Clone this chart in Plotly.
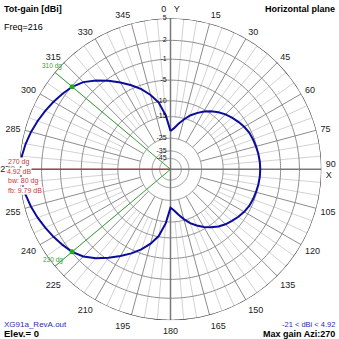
import numpy as np
import plotly.graph_objects as go

# ---------------------------------------------------------------------------
# Horizontal-plane total gain of the XG91a antenna (Elev = 0, Freq = 216)
# Azimuth is compass style: 0 deg on +Y (top), increasing clockwise.
# ---------------------------------------------------------------------------
azimuth_deg = list(range(0, 360, 5))
tot_gain_dbi = [
    -21.0, -19.6, -17.5, -15.4, -13.4, -11.9, -10.5, -9.4,    # 0 .. 35
    -8.4, -7.6, -7.0, -6.4, -5.9, -5.5, -5.3, -5.15,           # 40 .. 75
    -5.0, -4.9, -4.87, -4.9, -5.0, -5.15, -5.3, -5.5,          # 80 .. 115
    -5.9, -6.4, -7.0, -7.6, -8.4, -9.4, -10.5, -11.9,          # 120 .. 155
    -13.4, -15.4, -17.5, -19.6, -21.0, -14.5, -10.2, -7.8,     # 160 .. 195
    -5.85, -4.25, -2.8, -1.35, 0.0, 1.15, 1.92, 2.42,          # 200 .. 235
    2.88, 3.32, 3.75, 4.15, 4.5, 4.78, 4.92, 4.78,             # 240 .. 275
    4.5, 4.15, 3.75, 3.32, 2.88, 2.42, 1.92, 1.15,             # 280 .. 315
    0.0, -1.35, -2.8, -4.25, -5.85, -7.8, -10.2, -14.5,        # 320 .. 355
]

# Gain rings of the log grid and their labels
ring_db = [5, 2, -1, -5, -10, -15, -25, -35, -45]
ring_labels = ["5", "2", "-1", "-5", "-10", "-15", "-25", "-35", "-45"]

# Compass tick marks around the rim
angle_ticks = list(range(0, 360, 15))
angle_labels = [str(a) for a in angle_ticks]
angle_labels[0] = "0\u00a0\u00a0\u00a0Y"
angle_labels[6] = "90<br>X"

file_name = "XG91a_RevA.out"
freq_text = "Freq=216"
elev_deg = 0

# ---------------------------------------------------------------------------
# Log (ARRL-style) radial scale: every 2 dB shrinks the radius by 0.9
# ---------------------------------------------------------------------------
TOP_DB = 5.0


def radius(db):
    return 0.9 ** ((TOP_DB - np.asarray(db, dtype=float)) / 2.0)


az = np.array(azimuth_deg, dtype=float)
gain = np.array(tot_gain_dbi, dtype=float)

i_max = int(np.argmax(gain))
max_gain = gain[i_max]
max_az = az[i_max]
min_gain = gain.min()
back_az = (max_az + 180) % 360
fb_db = max_gain - gain[azimuth_deg.index(int(back_az))]
half_power = max_gain - 3.0
# -3 dB points on either side of the main beam
bw_lo = max(a for a, g in zip(azimuth_deg, tot_gain_dbi) if a < max_az and g <= half_power + 1e-9)
bw_hi = min(a for a, g in zip(azimuth_deg, tot_gain_dbi) if a > max_az and g <= half_power + 1e-9)
beamwidth = bw_hi - bw_lo

FONT = "Liberation Sans, Arial, sans-serif"
GRID_DARK = "#8c8c8c"
GRID_LIGHT = "#d2d2d2"
CURVE = "#0c0c9c"
GREEN = "#3a9e3a"
RED = "#c83737"

fig = go.Figure()


def seg_trace(thetas, r0, r1, color, width):
    th, rr = [], []
    for t in thetas:
        th += [t, t, None]
        rr += [r0, r1, None]
    return go.Scatterpolar(theta=th, r=rr, mode="lines", hoverinfo="skip",
                           line=dict(color=color, width=width), showlegend=False)


# minor (5 deg) and major (15 deg) spokes
minor = [a for a in range(0, 360, 5) if a % 15 != 0]
major = [a for a in range(0, 360, 15) if a % 90 != 0]
fig.add_trace(seg_trace(minor, float(radius(-15)), 1.0, GRID_LIGHT, 1))
fig.add_trace(seg_trace(major, float(radius(-25)), 1.0, GRID_DARK, 1))

# gain rings
ring_theta = np.arange(0, 361, 1)
for db in ring_db[1:]:
    fig.add_trace(go.Scatterpolar(theta=ring_theta, r=np.full(ring_theta.shape, float(radius(db))),
                                  mode="lines", hoverinfo="skip", showlegend=False,
                                  line=dict(color=GRID_DARK, width=1)))

# main cross through the centre
fig.add_trace(go.Scatterpolar(theta=[0, 0, 180, None, 90, 90, 270], r=[1, 0, 1, None, 1, 0, 1],
                              mode="lines", hoverinfo="skip", showlegend=False,
                              line=dict(color="#7a7a7a", width=1.5)))

# outer rim
fig.add_trace(go.Scatterpolar(theta=ring_theta, r=np.full(ring_theta.shape, float(radius(ring_db[0]))),
                              mode="lines", hoverinfo="skip", showlegend=False,
                              line=dict(color="#303030", width=1.2)))

# -3 dB bearing lines
fig.add_trace(seg_trace([bw_lo, bw_hi], 0.0, 1.0, GREEN, 1))
# max-gain bearing
fig.add_trace(seg_trace([max_az], 0.0, 1.0, RED, 1.2))

# radiation pattern
fig.add_trace(go.Scatterpolar(theta=np.append(az, az[0]), r=radius(np.append(gain, gain[0])),
                              mode="lines", hoverinfo="skip", showlegend=False,
                              line=dict(color=CURVE, width=2)))

# -3 dB markers on the curve
bw_gains = [tot_gain_dbi[azimuth_deg.index(bw_lo)], tot_gain_dbi[azimuth_deg.index(bw_hi)]]
fig.add_trace(go.Scatterpolar(theta=[bw_lo, bw_hi], r=radius(bw_gains), mode="markers",
                              hoverinfo="skip", showlegend=False,
                              marker=dict(color="#22aa22", size=5)))

# ring labels along the 0 deg line
fig.add_trace(go.Scatterpolar(theta=[0] * len(ring_db), r=radius(ring_db), mode="text",
                              text=[s + "\u00a0\u00a0" for s in ring_labels],
                              textposition="middle left", cliponaxis=False,
                              textfont=dict(size=7, color="#111111", family=FONT),
                              hoverinfo="skip", showlegend=False))

W = H = 339


def px(x):
    return x / W


def py(y):
    return 1 - y / H


ann = []


def text(x, y, s, size, color="#000000", bold=False, anchor="left", bg=None):
    ann.append(dict(x=px(x), y=py(y), xref="paper", yref="paper", text=("<b>%s</b>" % s) if bold else s,
                    showarrow=False, xanchor=anchor, yanchor="middle",
                    font=dict(size=size, color=color, family=FONT),
                    bgcolor=bg, borderpad=0))


text(3, 9, "Tot-gain [dBi]", 9, bold=True)
text(3, 27, freq_text, 9)
text(336, 9, "Horizontal plane", 9, bold=True, anchor="right")
text(3, 324, file_name, 8, color="#2a2ab8")
text(3, 333.5, "Elev.= %d" % elev_deg, 9.5, bold=True)
text(336, 324, "%g < dBi < %g" % (min_gain, max_gain), 7.5, color="#2a2ab8", anchor="right")
text(336, 333.5, "Max gain Azi:%d" % max_az, 9, bold=True, anchor="right")

# beam annotations
text(41, 65.5, "%d dg" % bw_hi, 6.5, color=GREEN)
text(42, 260, "%d dg" % bw_lo, 6.5, color=GREEN)
text(7, 162, "%d dg" % max_az, 7, color=RED, bg="white")
text(6, 171, "%.2f dB" % max_gain, 7, color=RED, bg="white")
text(7, 181, "bw: %d dg" % beamwidth, 7, color=RED, bg="white")
text(7, 190, "fb: %.2f dB" % fb_db, 7, color=RED, bg="white")

CX, CY, R = 170.5, 169.3, 151.0
fig.update_layout(
    width=W, height=H,
    margin=dict(l=0, r=0, t=0, b=0),
    paper_bgcolor="white",
    plot_bgcolor="white",
    showlegend=False,
    annotations=ann,
    polar=dict(
        domain=dict(x=[px(CX - R), px(CX + R)], y=[py(CY + R), py(CY - R)]),
        bgcolor="white",
        radialaxis=dict(visible=False, range=[0, 1]),
        angularaxis=dict(
            rotation=90, direction="clockwise",
            tickmode="array", tickvals=angle_ticks, ticktext=angle_labels,
            showgrid=False, showline=False,
            ticks="outside", ticklen=2, tickcolor="rgba(0,0,0,0)",
            tickfont=dict(size=9, color="#1a1a1a", family=FONT),
        ),
    ),
)

fig.write_html("out.html")
